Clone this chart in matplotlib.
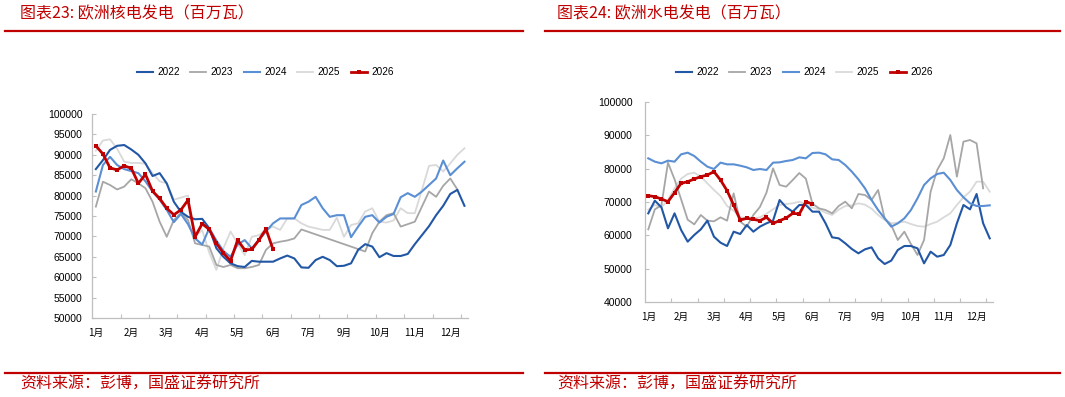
import numpy as np
import matplotlib
matplotlib.use("Agg")
import matplotlib.pyplot as plt
from matplotlib.lines import Line2D

plt.rcParams['font.family'] = ['Liberation Sans', 'Noto Sans CJK SC', 'DejaVu Sans']

# ---------------- data ----------------
years = ['2022', '2023', '2024', '2025', '2026']
month_labels = ['1月', '2月', '3月', '4月', '5月', '6月', '7月', '9月', '10月', '11月', '12月']
n_weeks = 53

nuclear_2022 = [86500, 88700, 91200, 92200, 92400, 91300, 90000, 87900, 84800, 85500,
                83000, 78500, 76000, 74800, 74200, 74300, 72000, 67100, 65000, 63400,
                62700, 62500, 64000, 63800, 63800, 63800, 64600, 65300, 64600, 62400,
                62300, 64200, 65000, 64200, 62700, 62800, 63400, 66700, 68100, 67500,
                64900, 65900, 65200, 65200, 65700, 68100, 70300, 72500, 75200, 77500,
                80400, 81400, 77500]
nuclear_2023 = [77300, 83400, 82600, 81500, 82200, 84000, 83000, 81800, 78500, 73600,
                69900, 74000, 75700, 74000, 68300, 67900, 67500, 63000, 62500, 63000,
                62200, 62200, 62500, 63000, 66700, 68300, 68700, 69000, 69500, 71700,
                None, None, None, None, None, None, None, None, 66300, 70800,
                73600, 75200, 75700, 72400, 73000, 73600, 77300, 81000, 79700, 82400,
                84200, 81500]
nuclear_2024 = [81000, 87500, 89500, 87500, 86500, 86000, 85500, 83500, 81000, 79000,
                76500, 73500, 75500, 73000, 69500, 68000, 72000, 69000, 66400, 65000,
                68000, 69100, 67100, 69100, 71200, 73200, 74400, 74400, 74400, 77700,
                78500, 79700, 76900, 74800, 75200, 75200, 69800, 72400, 74800, 75200,
                73400, 74800, 75500, 79600, 80600, 79700, 81000, 82600, 84200, 88600,
                85000, 86700, 88300]
nuclear_2025 = [91000, 93500, 93800, 91500, 88300, 88000, 88000, 87800, 85500, 83500,
                83000, 79000, 79500, 80000, 70000, 71500, 66000, 61800, 67100, 71200,
                68300, 65400, 69900, 70300, 71600, 72400, 71600, 74400, 74400, 73200,
                72400, 72000, 71600, 71600, 74600, 69900, 72800, 73200, 76100, 76900,
                73600, 73400, 73900, 76900, 75700, 75700, 81400, 87300, 87500, 85900,
                87900, 90000, 91600]
nuclear_2026 = [92200, 90200, 86800, 86300, 87300, 86700, 83000, 85200, 81100, 79300,
                76900, 75300, 76500, 78900, 69900, 73100, 71700, 68300, 65900, 64000,
                69100, 66700, 66800, 69100, 71800, 66800]

hydro_2022 = [66600, 70400, 68400, 62100, 66600, 61600, 58100, 60100, 61800, 64400,
              59600, 57800, 56800, 61100, 60400, 63100, 61100, 62600, 63600, 64400,
              70600, 68400, 67100, 69100, 69100, 67100, 67100, 63600, 59400, 59100,
              57600, 55900, 54600, 55800, 56400, 53100, 51400, 52400, 55600, 56800,
              56800, 56100, 51600, 55100, 53600, 54100, 57100, 63600, 69100, 67800,
              72400, 63600, 59100]
hydro_2023 = [61800, 67800, 69000, 81800, 76800, 70800, 64700, 63300, 66100, 64400,
              64200, 65400, 64400, 72600, 64100, 62600, 66100, 68500, 72800, 80100,
              75100, 74600, 76600, 78700, 77000, 69500, 68100, 67600, 66600, 68800,
              70100, 68100, 72400, 72100, 70600, 73600, 65100, 63100, 58600, 61100,
              57400, 54100, 58600, 73100, 79600, 83100, 90100, 77600, 88100, 88600,
              87600, 74100]
hydro_2024 = [83100, 82100, 81600, 82400, 82100, 84300, 84800, 83800, 82100, 80600,
              79900, 81800, 81300, 81300, 80900, 80400, 79600, 79900, 79600, 81800,
              81900, 82300, 82600, 83400, 83100, 84700, 84800, 84300, 82800, 82600,
              81100, 79100, 76800, 74100, 70600, 67600, 65100, 62600, 63600, 65100,
              67600, 71100, 75100, 77100, 78400, 78800, 76600, 73600, 71400, 69600,
              68800, 68800, 69000]
hydro_2025 = [67700, 69100, 68400, 70600, 74100, 77000, 78400, 78800, 77600, 75600,
              73600, 71800, 68800, 67400, 65400, 65200, 65100, 65400, 66500, 67800,
              69100, 69400, 69600, 70100, 69300, 68300, 67800, 66800, 66100, 67700,
              68800, 69000, 69600, 69200, 68000, 66100, 64600, 63600, 63800, 64100,
              63400, 62800, 62600, 63400, 64100, 65400, 66600, 69100, 71400, 73100,
              76100, 76100, 73100]
hydro_2026 = [71900, 71600, 70900, 70100, 72800, 75600, 76100, 76900, 77600, 78100,
              79100, 76600, 73400, 69100, 64600, 65100, 64800, 64400, 65400, 63600,
              64400, 65200, 66600, 66400, 70100, 69400]

colors = {'2022': '#2257a6', '2023': '#a6a6a6', '2024': '#5b8fd4',
          '2025': '#d9d9d9', '2026': '#c00000'}
widths = {'2022': 1.5, '2023': 1.3, '2024': 1.5, '2025': 1.3, '2026': 2.0}
zorders = {'2022': 3, '2023': 2, '2024': 3, '2025': 1, '2026': 5}

RED = '#c00000'
CJK = ['Noto Sans CJK SC', 'DejaVu Sans']

W, H = 1065, 397
fig = plt.figure(figsize=(W / 100, H / 100), dpi=100)


def fx(px):
    return px / W


def fy(py):
    return 1 - py / H


def draw_panel(rect, series, ylim, ystep, legend_xy, ypad):
    ax = fig.add_axes(rect)
    for yr in years:
        vals = np.array([np.nan if v is None else v for v in series[yr]], dtype=float)
        x = np.arange(len(vals))
        m = ~np.isnan(vals)
        kw = dict(color=colors[yr], lw=widths[yr], zorder=zorders[yr], label=yr,
                  solid_joinstyle='round')
        if yr == '2026':
            kw.update(marker='s', markersize=3.2, markeredgewidth=0)
        ax.plot(x[m], vals[m], **kw)
    ax.set_xlim(-0.5, n_weeks - 0.5)
    ax.set_ylim(*ylim)
    ax.set_yticks(np.arange(ylim[0], ylim[1] + 1, ystep))
    ax.tick_params(axis='y', direction='in', length=3, width=0.8, color='#bfbfbf',
                   labelsize=7.5, pad=ypad, labelcolor='#000000')
    # category boundary ticks (every 4 weeks)
    ax.set_xticks(np.arange(3.5, n_weeks, 4))
    ax.set_xticklabels([])
    ax.tick_params(axis='x', which='major', direction='in', length=3, width=0.8,
                   color='#bfbfbf')
    ax.set_xticks(np.arange(0, 5 * len(month_labels), 5), minor=True)
    ax.set_xticklabels(month_labels, minor=True, fontsize=7, family=CJK)
    ax.tick_params(axis='x', which='minor', length=0, pad=7)
    for s in ['top', 'right']:
        ax.spines[s].set_visible(False)
    for s in ['left', 'bottom']:
        ax.spines[s].set_color('#bfbfbf')
        ax.spines[s].set_linewidth(0.9)
    ax.legend(loc='center', bbox_to_anchor=legend_xy, ncol=5, frameon=False,
              fontsize=7.2, handlelength=1.6, handletextpad=0.45,
              columnspacing=1.05, numpoints=1)
    return ax


# left panel: nuclear
ax1 = draw_panel([fx(92.3), fy(318), fx(468) - fx(92.3), fy(114) - fy(318)],
                 {'2022': nuclear_2022, '2023': nuclear_2023, '2024': nuclear_2024,
                  '2025': nuclear_2025, '2026': nuclear_2026},
                 (50000, 100000), 5000, (0.46, 1.205), 7)

# right panel: hydro
ax2 = draw_panel([fx(645), fy(302), fx(993) - fx(645), fy(102) - fy(302)],
                 {'2022': hydro_2022, '2023': hydro_2023, '2024': hydro_2024,
                  '2025': hydro_2025, '2026': hydro_2026},
                 (40000, 100000), 10000, (0.457, 1.15), 9)

# titles, rules and source notes
titles = ['图表23: 欧洲核电发电（百万瓦）', '图表24: 欧洲水电发电（百万瓦）']
source = '资料来源：彭博，国盛证券研究所'
for x0, x1, tx, title in [(5, 523, 20, titles[0]), (545, 1060, 557, titles[1])]:
    fig.text(fx(tx), fy(14), title, color=RED, fontsize=11.5, family=CJK,
             va='center', ha='left')
    fig.add_artist(Line2D([fx(x0), fx(x1)], [fy(31), fy(31)], color=RED, lw=1.6,
                          transform=fig.transFigure))
    fig.add_artist(Line2D([fx(x0), fx(x1)], [fy(373), fy(373)], color=RED, lw=1.6,
                          transform=fig.transFigure))
    fig.text(fx(tx), fy(384), source, color=RED, fontsize=11.5, family=CJK,
             va='center', ha='left')

fig.savefig('out.png', dpi=100)
